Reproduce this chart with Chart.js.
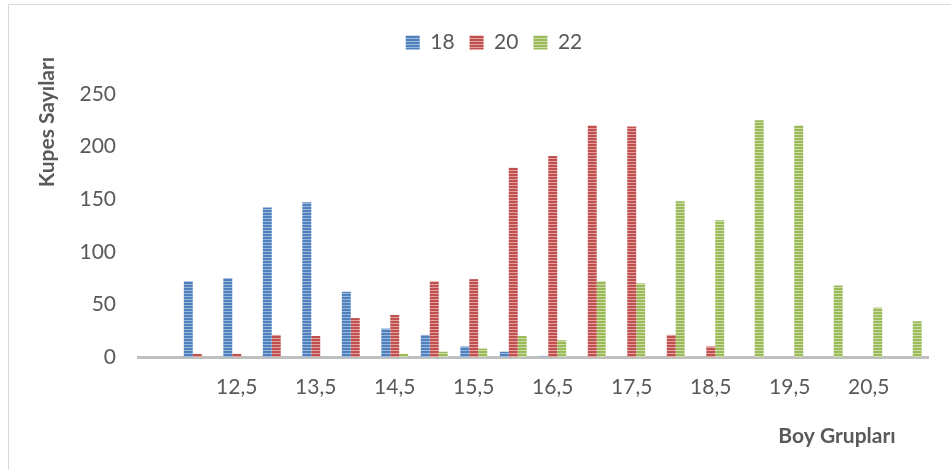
<!DOCTYPE html>
<html>
<head>
<meta charset="utf-8">
<script src="https://cdn.jsdelivr.net/npm/chart.js@4/dist/chart.umd.min.js"></script>
<style>
  html, body { margin: 0; padding: 0; background: #ffffff; }
  #wrap { position: relative; width: 951px; height: 470px; overflow: hidden; }
  #frame { position: absolute; left: 8px; top: 4px; width: 1200px; height: 800px;
           border-left: 1px solid #d9d9d9; border-top: 1px solid #d9d9d9; }
  canvas { position: absolute; left: 0; top: 0; }
</style>
</head>
<body>
<div id="wrap">
  <div id="frame"></div>
  <canvas id="c" width="951" height="470"></canvas>
</div>
<script>
// Boy grupları (size classes); the first slot is an unlabeled spacer category
const categories = ['', '12', '12,5', '13', '13,5', '14', '14,5', '15', '15,5', '16', '16,5',
                    '17', '17,5', '18', '18,5', '19', '19,5', '20', '20,5', '21'];
const seriesNames = ['18', '20', '22'];
const values18 = [0, 72, 75, 142, 147, 62, 27, 21, 10, 5, 1, 0, 0, 0, 0, 0, 0, 0, 0, 0];
const values20 = [0, 3, 3, 21, 20, 37, 40, 72, 74, 180, 191, 220, 219, 21, 10, 0, 0, 0, 0, 0];
const values22 = [0, 0, 0, 0, 0, 0, 3, 5, 8, 20, 16, 72, 70, 148, 130, 225, 220, 68, 47, 34];
const yTicks = [0, 50, 100, 150, 200, 250];

const TEXT = '#595959';
const FONT = 'Lato';

// horizontal-stripe fill in the Office style
function stripes(dark, light) {
  const p = document.createElement('canvas');
  p.width = 8; p.height = 3;
  const g = p.getContext('2d');
  g.fillStyle = dark; g.fillRect(0, 0, 8, 2);
  g.fillStyle = light; g.fillRect(0, 2, 8, 1);
  return g.createPattern(p, 'repeat');
}
const ctx = document.getElementById('c').getContext('2d');
const fills = [
  stripes('#4f81bd', '#9bb7dc'),
  stripes('#c0504d', '#e0a3a1'),
  stripes('#9bbb59', '#cddcad')
];

// fixed legend band height so the plot starts where it should
const legendBand = {
  id: 'legendBand',
  beforeLayout(chart) {
    const lg = chart.legend;
    if (lg && !lg._bandPatched) {
      const fit = lg.fit;
      lg.fit = function () { fit.call(this); this.height = 77; };
      lg._bandPatched = true;
    }
  }
};

// axis titles
const axisTitles = {
  id: 'axisTitles',
  afterDraw(chart) {
    const c = chart.ctx;
    c.save();
    c.fillStyle = TEXT;
    c.font = 'bold 21px ' + FONT;
    c.textAlign = 'center';
    c.textBaseline = 'middle';
    c.fillText('Boy Grupları', 837, 436);
    c.translate(47, 122);
    c.rotate(-Math.PI / 2);
    c.fillText('Kupes Sayıları', 0, 0);
    c.restore();
  }
};

new Chart(ctx, {
  type: 'bar',
  data: {
    labels: categories,
    datasets: [
      { label: seriesNames[0], data: values18, backgroundColor: fills[0] },
      { label: seriesNames[1], data: values20, backgroundColor: fills[1] },
      { label: seriesNames[2], data: values22, backgroundColor: fills[2] }
    ]
  },
  options: {
    responsive: false,
    animation: false,
    layout: { padding: { top: 17, left: 60, right: 23, bottom: 0 } },
    datasets: { bar: { categoryPercentage: 0.68, barPercentage: 1.0, borderWidth: 0 } },
    plugins: {
      tooltip: { enabled: false },
      legend: {
        position: 'top',
        align: 'center',
        labels: {
          boxWidth: 14, boxHeight: 14, padding: 15,
          color: TEXT,
          font: { family: FONT, size: 21 }
        }
      }
    },
    scales: {
      x: {
        grid: { display: false, drawTicks: false },
        border: { display: true, color: '#bfbfbf', width: 3 },
        afterFit(s) { s.height = 113; },
        ticks: {
          autoSkip: false, maxRotation: 0, minRotation: 0, padding: 18,
          color: TEXT, font: { family: FONT, size: 21 },
          callback(v, i) { return i % 2 === 0 ? categories[i] : ''; }
        }
      },
      y: {
        min: 0, max: 250,
        grid: { display: false, drawTicks: false },
        border: { display: false },
        afterFit(s) { s.width = 78; },
        afterBuildTicks(s) { s.ticks = yTicks.map(v => ({ value: v })); },
        ticks: {
          padding: 22,
          color: TEXT, font: { family: FONT, size: 21 }
        }
      }
    }
  },
  plugins: [legendBand, axisTitles]
});
</script>
</body>
</html>
